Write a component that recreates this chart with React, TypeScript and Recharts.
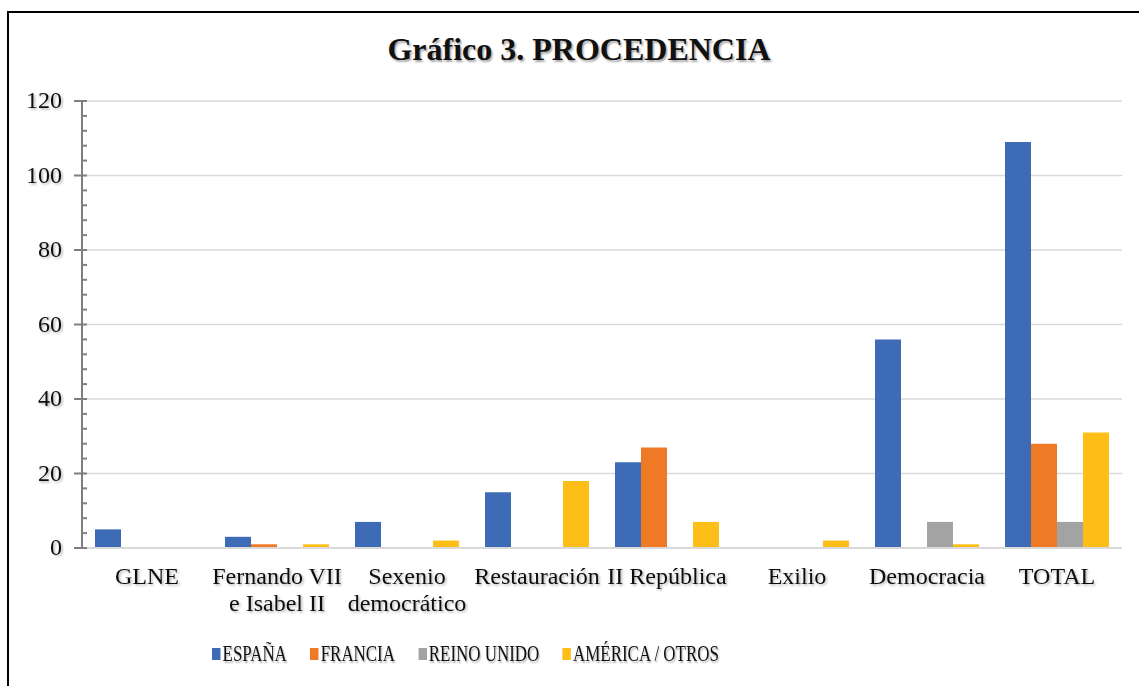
import React from "react";
import { BarChart, Bar, XAxis, YAxis, CartesianGrid } from "recharts";

const categories = [
  "GLNE",
  "Fernando VII\ne Isabel II",
  "Sexenio\ndemocrático",
  "Restauración",
  "II República",
  "Exilio",
  "Democracia",
  "TOTAL",
];

const espana = [5, 3, 7, 15, 23, 0, 56, 109];
const francia = [0, 1, 0, 0, 27, 0, 0, 28];
const reinoUnido = [0, 0, 0, 0, 0, 0, 7, 7];
const america = [0, 1, 2, 18, 7, 2, 1, 31];

const majorTicks = [0, 20, 40, 60, 80, 100, 120];
const allTicks = [
  0, 4, 8, 12, 16, 20, 24, 28, 32, 36, 40, 44, 48, 52, 56, 60, 64, 68, 72, 76,
  80, 84, 88, 92, 96, 100, 104, 108, 112, 116, 120,
];

const series = [
  { key: "espana", name: "ESPAÑA", color: "#3d6bb6" },
  { key: "francia", name: "FRANCIA", color: "#ee7a26" },
  { key: "reinoUnido", name: "REINO UNIDO", color: "#a3a3a3" },
  { key: "america", name: "AMÉRICA / OTROS", color: "#fdbf17" },
];

const data = categories.map((name, i) => ({
  name,
  espana: espana[i],
  francia: francia[i],
  reinoUnido: reinoUnido[i],
  america: america[i],
}));

const FONT = '"Liberation Serif", "Times New Roman", serif';
const TICK_SIZE = 8;
const TICK_MARGIN = 12;
const AXIS_GRAY = "#7f7f7f";

function YTick(props: any) {
  const { x, y, payload } = props;
  const axisX = x + TICK_SIZE + TICK_MARGIN;
  const major = payload.value % 20 === 0;
  return (
    <g>
      <line
        x1={major ? axisX - 8 : axisX}
        x2={axisX + 5}
        y1={y}
        y2={y}
        stroke={AXIS_GRAY}
        strokeWidth={2}
      />
      {major && (
        <text
          x={x}
          y={y}
          dy={7}
          textAnchor="end"
          fontFamily={FONT}
          fontSize={24}
          fill="#111"
          filter="url(#tshadow)"
        >
          {payload.value}
        </text>
      )}
    </g>
  );
}

function XTick(props: any) {
  const { x, y, payload } = props;
  const lines = String(payload.value).split("\n");
  return (
    <text
      x={x}
      y={y}
      textAnchor="middle"
      fontFamily={FONT}
      fontSize={24}
      fill="#111"
      filter="url(#tshadow)"
    >
      {lines.map((l, i) => (
        <tspan key={i} x={x} dy={i === 0 ? 36 : 27}>
          {l}
        </tspan>
      ))}
    </text>
  );
}

function gridYs({ yAxis, offset }: any) {
  return majorTicks.map((v) => {
    const s = yAxis && yAxis.scale;
    if (typeof s === "function") return s(v);
    if (s && typeof s.map === "function") return s.map(v);
    return offset.top + offset.height * (1 - v / 120);
  });
}

export default function App() {
  return (
    <div
      style={{
        position: "fixed",
        left: 0,
        top: 0,
        width: 1139,
        height: 686,
        overflow: "hidden",
        background: "#fff",
      }}
    >
      <svg width={0} height={0} style={{ position: "absolute" }}>
        <defs>
          <filter id="tshadow" x="-10%" y="-30%" width="130%" height="170%">
            <feDropShadow dx={1.5} dy={1.5} stdDeviation={1} floodColor="#000" floodOpacity={0.3} />
          </filter>
        </defs>
      </svg>
      <div
        style={{
          position: "absolute",
          left: 7,
          top: 11,
          width: 1200,
          height: 720,
          border: "2.5px solid #000",
        }}
      />
      <div
        style={{
          position: "absolute",
          left: 0,
          top: 33,
          width: 1158,
          textAlign: "center",
          fontFamily: FONT,
          fontWeight: "bold",
          fontSize: 32,
          lineHeight: "32px",
          color: "#111",
          textShadow: "1.5px 1.5px 2px rgba(0,0,0,0.35)",
        }}
      >
        Gráfico 3. PROCEDENCIA
      </div>
      <div style={{ position: "absolute", left: 0, top: 0 }}>
        <BarChart
          width={1139}
          height={686}
          data={data}
          margin={{ top: 101, right: 17, bottom: 68, left: 0 }}
          barCategoryGap="10%"
          barGap={0}
        >
          <CartesianGrid
            vertical={false}
            stroke="#d9d9d9"
            strokeWidth={1.5}
            horizontalCoordinatesGenerator={gridYs}
          />
          <XAxis
            dataKey="name"
            interval={0}
            height={70}
            tickLine={false}
            tickSize={0}
            tickMargin={0}
            axisLine={{ stroke: "#d9d9d9", strokeWidth: 2 }}
            tick={<XTick />}
          />
          <YAxis
            width={82}
            domain={[0, 120]}
            ticks={allTicks}
            interval={0}
            tickSize={TICK_SIZE}
            tickMargin={TICK_MARGIN}
            tickLine={false}
            axisLine={{ stroke: AXIS_GRAY, strokeWidth: 2 }}
            tick={<YTick />}
          />
          {series.map((s) => (
            <Bar
              key={s.key}
              dataKey={s.key}
              name={s.name}
              fill={s.color}
              isAnimationActive={false}
            />
          ))}
        </BarChart>
      </div>
      <div
        style={{
          position: "absolute",
          left: 212,
          top: 640,
          display: "flex",
          alignItems: "center",
          whiteSpace: "nowrap",
          transform: "scaleX(0.705)",
          transformOrigin: "left center",
          fontFamily: FONT,
          fontSize: 24,
          lineHeight: "27px",
          color: "#111",
          textShadow: "1.5px 1.5px 2px rgba(0,0,0,0.3)",
        }}
      >
        {series.map((s) => (
          <div
            key={s.key}
            style={{ display: "flex", alignItems: "center", marginRight: 33 }}
          >
            <span
              style={{
                display: "inline-block",
                width: 12,
                height: 12,
                background: s.color,
                marginRight: 3,
              }}
            />
            <span>{s.name}</span>
          </div>
        ))}
      </div>
    </div>
  );
}
